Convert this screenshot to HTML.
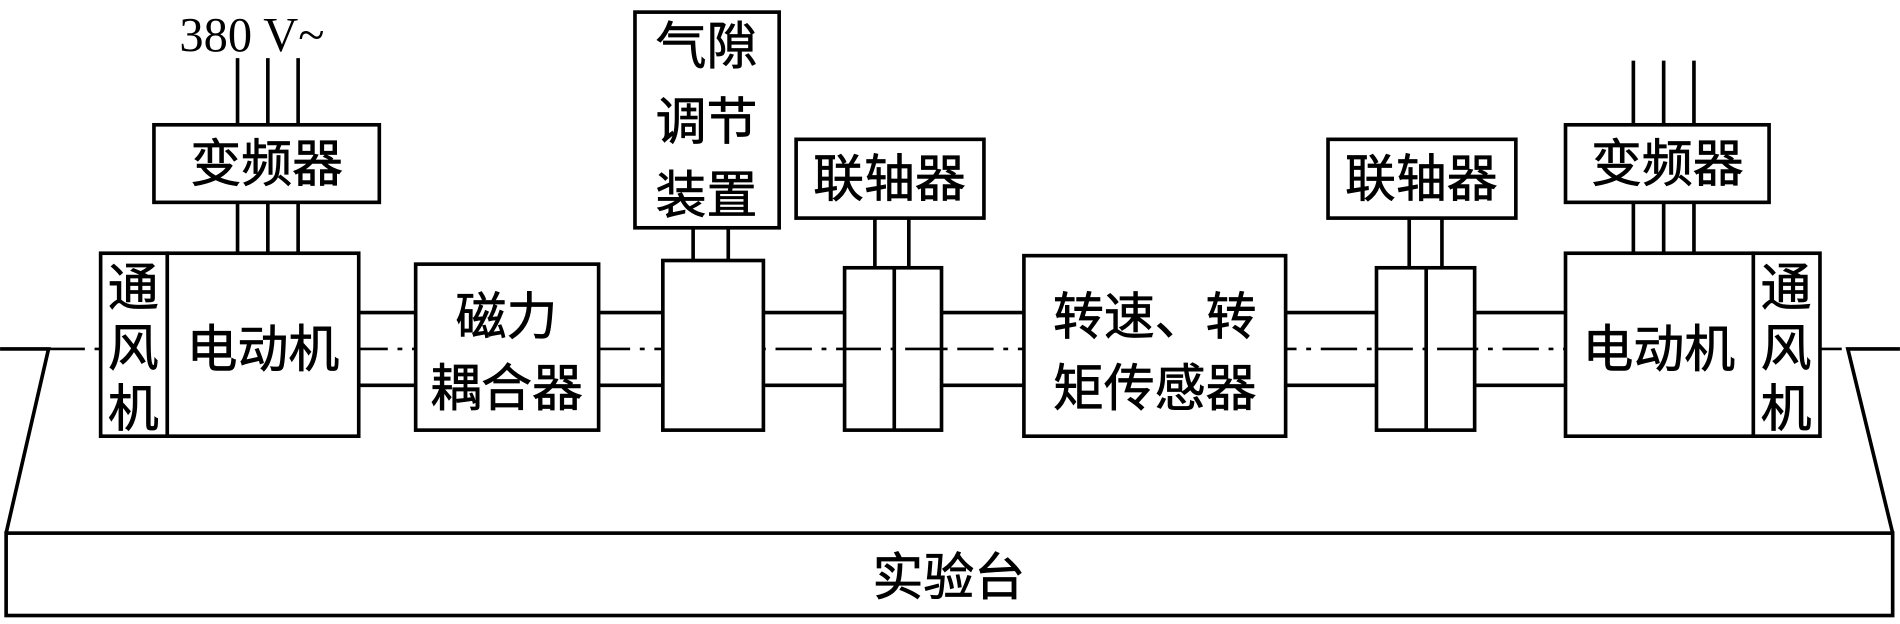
<!DOCTYPE html>
<html><head><meta charset="utf-8"><style>
html,body{margin:0;padding:0;background:#fff;}
svg{display:block;}
text{font-family:"Liberation Sans","Noto Sans CJK SC",sans-serif;fill:#000;}
</style></head><body>
<svg width="1900" height="624" viewBox="0 0 1568 515" xmlns="http://www.w3.org/2000/svg">
<g stroke="#000" stroke-width="3" fill="none">
<polyline points="0,288 40,288 5,440"/>
<polyline points="1568,288 1525,288 1562,440"/>
<rect x="5" y="440" width="1557" height="68"/>
<line x1="40" y1="288" x2="1525" y2="288" stroke-dasharray="30,8,4,8" stroke-width="2.2"/>
<line x1="196" y1="48" x2="196" y2="103"/><line x1="221" y1="48" x2="221" y2="103"/><line x1="246" y1="48" x2="246" y2="103"/>
<line x1="196" y1="167" x2="196" y2="209"/><line x1="221" y1="167" x2="221" y2="209"/><line x1="246" y1="167" x2="246" y2="209"/>
<line x1="1348" y1="50" x2="1348" y2="103"/><line x1="1373" y1="50" x2="1373" y2="103"/><line x1="1398" y1="50" x2="1398" y2="103"/>
<line x1="1348" y1="167" x2="1348" y2="209"/><line x1="1373" y1="167" x2="1373" y2="209"/><line x1="1398" y1="167" x2="1398" y2="209"/>
<line x1="296" y1="258" x2="1292" y2="258"/>
<line x1="296" y1="318" x2="1292" y2="318"/>
<line x1="572" y1="188" x2="572" y2="215"/><line x1="601" y1="188" x2="601" y2="215"/>
<line x1="722" y1="180" x2="722" y2="221"/><line x1="750" y1="180" x2="750" y2="221"/>
<line x1="1163" y1="180" x2="1163" y2="221"/><line x1="1190" y1="180" x2="1190" y2="221"/>
</g>
<g stroke="#000" stroke-width="3" fill="#fff">
<rect x="127" y="103" width="186" height="64"/>
<rect x="83" y="209" width="55" height="151"/>
<rect x="138" y="209" width="158" height="151"/>
<rect x="343" y="218" width="151" height="137"/>
<rect x="547" y="215" width="83" height="140"/>
<rect x="524" y="10" width="119" height="178"/>
<rect x="657" y="115" width="155" height="65"/>
<rect x="697" y="221" width="80" height="134"/>
<rect x="845" y="211" width="216" height="149"/>
<rect x="1136" y="221" width="81" height="134"/>
<rect x="1096" y="115" width="155" height="65"/>
<rect x="1292" y="209" width="155" height="151"/>
<rect x="1447" y="209" width="55" height="151"/>
<rect x="1292" y="103" width="168" height="64"/>
</g>
<g stroke="#000" stroke-width="3" fill="none">
<line x1="738" y1="221" x2="738" y2="355"/>
<line x1="1177" y1="221" x2="1177" y2="355"/>
<line x1="697" y1="288" x2="777" y2="288" stroke-dasharray="30,8,4,8" stroke-width="2.2"/>
<line x1="1136" y1="288" x2="1217" y2="288" stroke-dasharray="30,8,4,8" stroke-width="2.2"/>
</g>
<text x="148" y="42" style="font-family:'Liberation Serif',serif" font-size="40">380 V~</text>
<g font-size="42" text-anchor="middle" stroke="#000" stroke-width="0.6">
<text x="220" y="150">变频器</text>
<text x="1376" y="150">变频器</text>
<text x="110" y="252">通</text><text x="110" y="302">风</text><text x="110" y="352">机</text>
<text x="1474" y="252">通</text><text x="1474" y="302">风</text><text x="1474" y="352">机</text>
<text x="217" y="303">电动机</text>
<text x="1369" y="303">电动机</text>
<text x="418" y="276">磁力</text>
<text x="418" y="335">耦合器</text>
<text x="583" y="53">气隙</text>
<text x="583" y="115">调节</text>
<text x="583" y="176">装置</text>
<text x="734" y="162">联轴器</text>
<text x="1173" y="162">联轴器</text>
<text x="953" y="276">转速、转</text>
<text x="953" y="335">矩传感器</text>
<text x="783" y="491">实验台</text>
</g>
</svg>
</body></html>
